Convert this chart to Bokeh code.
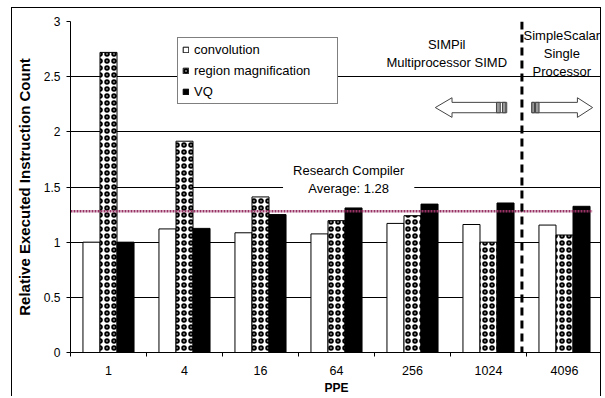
from bokeh.plotting import figure
from bokeh.models import (FixedTicker, NumeralTickFormatter, Label, Span, Legend,
                          LegendItem, ColumnDataSource)
from bokeh.embed import file_html
from bokeh.resources import INLINE

# ---------------- data ----------------
ppe = ["1", "4", "16", "64", "256", "1024", "4096"]
convolution = [1.00, 1.12, 1.085, 1.075, 1.17, 1.16, 1.155]
region_magnification = [2.72, 1.915, 1.41, 1.195, 1.24, 1.00, 1.065]
vq = [1.00, 1.125, 1.25, 1.31, 1.345, 1.355, 1.325]
average = 1.28
series_names = ["convolution", "region magnification", "VQ"]
y_ticks = [0, 0.5, 1, 1.5, 2, 2.5, 3]

FONT = "Liberation Sans"
n = len(ppe)
centers = [i + 0.5 for i in range(n)]
bounds = [float(i) for i in range(n + 1)]
bw = 0.224

p = figure(width=590, height=389, x_range=(0, n), y_range=(0, 3),
           output_backend="svg", toolbar_location=None,
           min_border_left=58, min_border_right=0, min_border_top=13,
           min_border_bottom=45)
p.background_fill_color = "white"
p.border_fill_color = "white"
p.outline_line_color = None
p.styles = {"margin-left": "11px", "margin-top": "7px",
            "border-left": "1px solid black", "border-top": "1px solid black",
            "border-right": "1px solid black"}

# grid
p.xgrid.visible = False
p.ygrid.ticker = FixedTicker(ticks=y_ticks)
p.ygrid.grid_line_color = "black"
p.ygrid.grid_line_width = 1

# y axis
p.yaxis.ticker = FixedTicker(ticks=y_ticks)
p.yaxis.formatter = NumeralTickFormatter(format="0.[0]")
p.yaxis.major_tick_out = 4
p.yaxis.major_tick_in = 0
p.yaxis.minor_tick_line_color = None
p.yaxis.axis_line_color = "black"
p.yaxis.major_tick_line_color = "black"
p.yaxis.major_label_text_font = FONT
p.yaxis.major_label_text_font_size = "12px"
p.yaxis.major_label_text_color = "black"
p.yaxis.major_label_standoff = 6
p.yaxis.axis_label = "Relative Executed Instruction Count"
p.yaxis.axis_label_text_font = FONT
p.yaxis.axis_label_text_font_size = "15px"
p.yaxis.axis_label_text_font_style = "bold"
p.yaxis.axis_label_text_color = "black"
p.yaxis.axis_label_standoff = 8

# x axis: labels at centres, ticks at boundaries
p.xaxis.ticker = FixedTicker(ticks=centers, minor_ticks=bounds)
p.xaxis.major_label_overrides = {c: lab for c, lab in zip(centers, ppe)}
p.xaxis.major_tick_out = 0
p.xaxis.major_tick_in = 0
p.xaxis.major_tick_line_color = None
p.xaxis.minor_tick_out = 4
p.xaxis.minor_tick_in = 0
p.xaxis.minor_tick_line_color = "black"
p.xaxis.axis_line_color = "black"
p.xaxis.major_label_text_font = FONT
p.xaxis.major_label_text_font_size = "12.5px"
p.xaxis.major_label_text_color = "black"
p.xaxis.major_label_standoff = 9
p.xaxis.axis_label = "PPE"
p.xaxis.axis_label_text_font = FONT
p.xaxis.axis_label_text_font_size = "12px"
p.xaxis.axis_label_text_font_style = "bold"
p.xaxis.axis_label_text_color = "black"
p.xaxis.axis_label_standoff = 3

# bars
src = ColumnDataSource(dict(
    x_c=[c - bw for c in centers], x_r=centers, x_v=[c + bw for c in centers],
    conv=convolution, reg=region_magnification, vq=vq))
r_conv = p.vbar(x="x_c", top="conv", width=bw, source=src, fill_color="white",
                line_color="black", line_width=1)
r_reg = p.vbar(x="x_r", top="reg", width=bw, source=src, fill_color="white",
               line_color="black", line_width=1, hatch_pattern="ring",
               hatch_scale=7, hatch_weight=2, hatch_color="black")
r_vq = p.vbar(x="x_v", top="vq", width=bw, source=src, fill_color="black",
              line_color="black", line_width=1)

# average line
p.line(x=[0, 6.87], y=[average, average], line_color="#993366", line_width=2.5,
       line_dash="2 1")

# divider between SIMPil and SimpleScalar
p.add_layout(Span(location=5.94, dimension="height", line_color="black",
                  line_width=3, line_dash="8 5"))

# arrows
ay, hh, sh = 2.22, 0.089, 0.047
left_arrow = dict(tip=4.80, neck=5.02, tail=5.74)
right_arrow = dict(tip=6.87, neck=6.67, tail=6.07)
xs, ys = [], []
for a in (left_arrow, right_arrow):
    xs.append([a["tip"], a["neck"], a["neck"], a["tail"], a["tail"], a["neck"], a["neck"]])
    ys.append([ay, ay + hh, ay + sh, ay + sh, ay - sh, ay - sh, ay - hh])
p.patches(xs=xs, ys=ys, fill_color="white", line_color="#444444", line_width=1,
          hatch_pattern="v_line", hatch_scale=2, hatch_weight=1, hatch_color="#555555")
p.quad(left=[5.605, 5.684, 6.07, 6.118], right=[5.655, 5.728, 6.105, 6.165],
       top=[ay + sh] * 4, bottom=[ay - sh] * 4, fill_color="#999999",
       line_color="#444444", line_width=1)

# text annotations
def txt(text, x, y, **kw):
    lab = Label(x=x, y=y, text=text, text_font=FONT, text_font_size="13px",
                text_color="black", text_align="center", text_baseline="middle",
                text_line_height=1.2, **kw)
    p.add_layout(lab)
    return lab

txt("SIMPil\nMultiprocessor SIMD", 4.95, 2.714)
txt("SimpleScalar\nSingle\nProcessor", 6.465, 2.71)
txt("Research Compiler\nAverage: %.2f" % average, 3.66, 1.571,
    background_fill_color="white", padding=10)

# legend
legend = Legend(items=[LegendItem(label=series_names[0], renderers=[r_conv]),
                       LegendItem(label=series_names[1], renderers=[r_reg]),
                       LegendItem(label=series_names[2], renderers=[r_vq])],
                location=(107, 248), orientation="vertical",
                label_text_font=FONT, label_text_font_size="13px",
                label_text_color="black", glyph_width=7, glyph_height=7,
                label_height=14, label_width=139, label_standoff=5, spacing=6,
                padding=4, margin=0, border_line_color="black", border_line_width=1,
                background_fill_color="white", background_fill_alpha=1.0)
p.add_layout(legend)

open("out.html", "w").write(file_html(p, INLINE))
